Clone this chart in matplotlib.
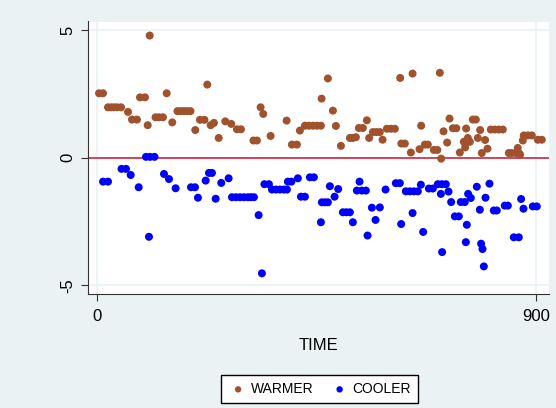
import numpy as np
import matplotlib.pyplot as plt

plt.rcParams['font.family'] = ['Liberation Sans', 'DejaVu Sans']

# WARMER series (time, value)
warm_t = [3.5, 11.7, 21.9, 28.1, 34.2, 40.4, 48.6, 62.9, 71.1, 81.3, 87.5, 97.7, 103.3, 107.4,
          119.3, 126.4, 134.6, 142.2, 153.7, 164.3, 171.5, 177.7, 183.8, 191.0, 200.8, 210.4,
          219.7, 225.4, 232.4, 239.1, 248.8, 262.3, 274.6, 286.3, 294.5, 320.1, 327.2, 334.8,
          340.1, 355.3, 388.1, 398.9, 409.2, 415.3, 425.6, 433.8, 442.0, 450.2, 458.4, 459.8,
          472.7, 483.0, 489.1, 499.4, 517.8, 524.0, 530.1, 536.2, 544.4, 552.6, 557.3, 564.9,
          572.1, 579.2, 584.8, 593.6, 601.8, 610.0, 620.9, 623.3, 630.5, 642.8, 646.3, 660.6,
          663.9, 671.5, 677.6, 689.9, 697.1, 702.2, 704.9, 709.8, 717.2, 722.1, 728.9, 736.0,
          743.2, 751.4, 754.0, 756.1, 757.5, 759.6, 763.7, 769.8, 776.0, 780.1, 784.8, 788.2,
          795.0, 799.9, 806.7, 814.9, 823.1, 831.3, 843.6, 849.7, 857.9, 862.0, 864.1, 866.7,
          872.3, 874.3, 882.5, 890.7, 903.0, 911.2]
warm_v = [2.52, 2.52, 1.97, 1.97, 1.97, 1.97, 1.97, 1.79, 1.49, 1.49, 2.36, 2.36, 1.27, 4.78,
          1.58, 1.58, 1.58, 2.52, 1.38, 1.82, 1.82, 1.82, 1.82, 1.82, 1.08, 1.48,
          1.48, 2.86, 1.27, 1.36, 0.77, 1.42, 1.32, 1.11, 1.11, 0.67, 0.67, 1.97,
          1.71, 0.85, 1.45, 0.51, 0.51, 1.06, 1.25, 1.25, 1.25, 1.25, 1.25, 2.31,
          3.10, 1.84, 1.24, 0.46, 0.77, 0.77, 0.80, 1.16, 1.16, 1.46, 0.77, 1.00,
          1.00, 1.00, 0.70, 1.13, 1.13, 1.13, 3.12, 0.55, 0.55, 0.20, 3.29, 0.33,
          1.25, 0.51, 0.51, 0.30, 0.30, 3.32, -0.04, 1.03, 0.59, 1.53, 1.15, 1.15,
          0.20, 0.62, 0.40, 1.14, 0.62, 0.77, 0.62, 1.49, 1.49, 0.77, 1.08, 0.18,
          0.69, 0.35, 1.10, 1.10, 1.10, 1.10, 0.18, 0.18, 0.18, 0.38, 0.18, 0.12,
          0.67, 0.87, 0.87, 0.87, 0.70, 0.70]

# COOLER series (time, value)
cool_t = [11.7, 21.9, 49.6, 58.8, 68.4, 84.8, 99.8, 105.9, 108.0, 117.2, 136.7, 146.9, 160.6,
          192.0, 200.2, 206.3, 222.1, 228.9, 235.0, 242.6, 254.1, 269.2, 276.0, 284.2, 292.4,
          300.6, 308.8, 314.9, 321.1, 330.7, 337.5, 342.6, 351.8, 358.0, 366.2, 374.4, 382.5,
          388.7, 390.7, 397.9, 411.2, 417.4, 425.6, 435.8, 444.0, 458.4, 460.4, 466.6, 472.7,
          476.8, 486.4, 493.8, 503.4, 510.6, 517.8, 523.9, 532.1, 537.6, 542.4, 550.6, 554.0,
          562.9, 570.4, 579.2, 590.9, 612.0, 620.2, 622.9, 632.5, 640.7, 646.3, 648.9, 657.1,
          663.3, 668.0, 679.7, 687.9, 698.1, 704.3, 706.3, 706.9, 714.5, 720.0, 725.4, 733.0,
          741.2, 745.2, 753.4, 755.5, 757.5, 760.2, 765.7, 778.0, 784.2, 786.8, 789.7, 792.4,
          795.8, 804.0, 812.8, 819.0, 835.4, 841.6, 853.8, 864.1, 868.8, 873.7, 892.8, 901.0]
cool_v = [-0.94, -0.94, -0.44, -0.44, -0.68, -1.16, 0.03, -3.10, 0.03, 0.03, -0.64, -0.84, -1.20,
          -1.16, -1.16, -1.57, -0.90, -0.60, -0.60, -1.61, -0.99, -0.81, -1.55, -1.55, -1.55,
          -1.55, -1.55, -1.55, -1.55, -2.25, -4.53, -1.04, -1.04, -1.25, -1.25, -1.25, -1.25,
          -1.25, -0.94, -0.94, -0.81, -1.53, -1.53, -0.77, -0.77, -2.53, -1.75, -1.75, -1.75,
          -1.12, -1.53, -1.23, -2.14, -2.14, -2.14, -2.53, -1.29, -0.94, -1.29, -1.29, -3.05,
          -1.96, -2.44, -1.95, -1.25, -1.00, -1.00, -2.60, -1.32, -1.32, -2.17, -1.32, -1.32,
          -1.06, -2.91, -1.21, -1.21, -1.04, -1.42, -1.04, -3.70, -1.04, -1.33, -1.74, -2.30,
          -2.30, -1.74, -1.74, -3.31, -2.63, -1.42, -1.58, -1.14, -2.04, -3.37, -3.58, -4.26,
          -1.57, -1.02, -2.07, -2.07, -1.88, -1.88, -3.12, -3.12, -1.62, -2.00, -1.91, -1.91]

bg = '#eaf2f3'
fig = plt.figure(figsize=(5.56, 4.08), dpi=100, facecolor=bg)
ax = fig.add_axes([88/556, 1-294/408, (549-88)/556, (294-21.5)/408])
ax.set_facecolor('white')

ax.set_xlim(-19.1, 926)
ax.set_ylim(-5.34, 5.33)

for v in [-5, 5]:
    ax.axhline(v, color=bg, lw=1.2, zorder=0)
for v in [0, 900]:
    ax.axvline(v, color=bg, lw=1.2, zorder=0)

ax.axhline(0, color='#c8102e', lw=1.1, zorder=1)

ax.scatter(warm_t, warm_v, s=33, color='#a0522d', edgecolors='none', label='WARMER', zorder=2)
ax.scatter(cool_t, cool_v, s=33, color='#0000ff', edgecolors='none', label='COOLER', zorder=2)

ax.spines['top'].set_visible(False)
ax.spines['right'].set_visible(False)
ax.spines['left'].set_color('#333333')
ax.spines['bottom'].set_color('#333333')

ax.set_xticks([0, 900])
ax.set_yticks([-5, 0, 5])
ax.set_yticklabels(['-5', '0', '5'], rotation=90, va='center')
ax.tick_params(axis='both', length=5, width=0.8, color='#333333', labelsize=12)
ax.tick_params(axis='x', pad=6)
ax.tick_params(axis='y', pad=4)
ax.set_xlabel('TIME', fontsize=12, labelpad=10)

fig.legend(loc='center', bbox_to_anchor=(319.5/556, 1-389/408), ncol=2, fontsize=10,
           frameon=True, fancybox=False, edgecolor='black', framealpha=1,
           handletextpad=0.2, columnspacing=1.2, markerscale=0.8, borderpad=0.5,
           handlelength=1.4)

fig.savefig('out.png', dpi=100, facecolor=bg)
